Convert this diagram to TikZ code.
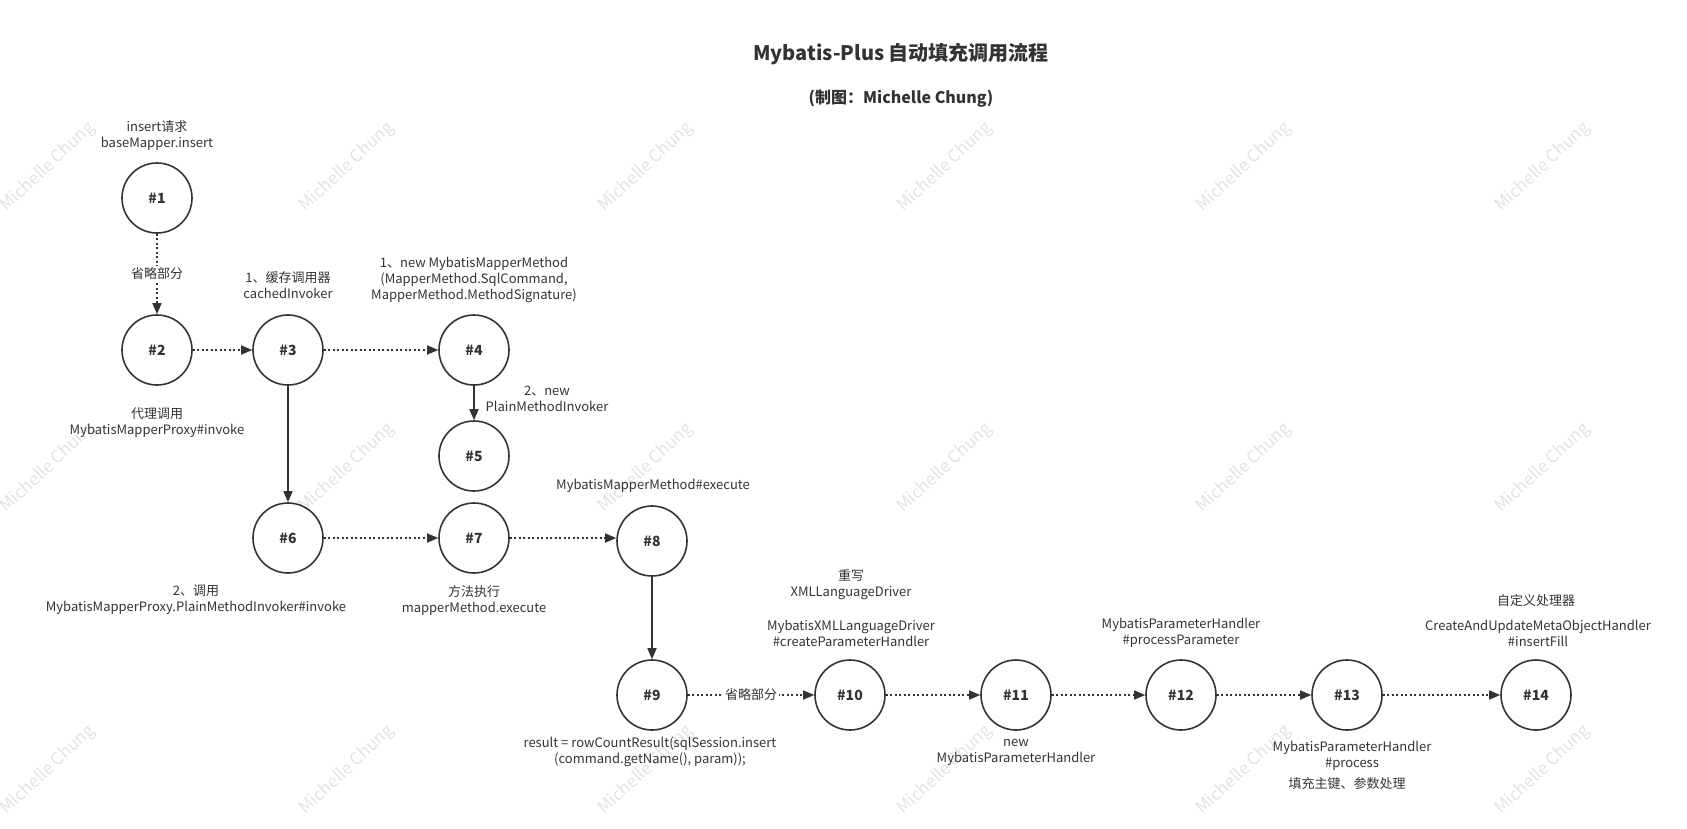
\documentclass[tikz,border=0pt]{standalone}
\usepackage{fontspec}
\setmainfont{Noto Sans CJK SC}
\usetikzlibrary{arrows.meta,positioning}
\definecolor{ink}{HTML}{333333}
\definecolor{wmark}{HTML}{E2E2E2}
\begin{document}
\begin{tikzpicture}[x=1pt,y=-1pt,text=ink,font=\fontsize{13}{16}\selectfont]
\tikzstyle{state}=[circle,draw=ink,line width=1.6pt,minimum size=70pt,inner sep=0pt,font=\fontsize{14}{16}\selectfont\bfseries]
\tikzstyle{call}=[draw=ink,line width=1.6pt,-{Triangle[length=11pt,width=9pt]}]
\tikzstyle{skip}=[call,dash pattern=on 2pt off 2.5pt]
\tikzstyle{note}=[align=center,inner sep=1pt]
\useasboundingbox (0,0) rectangle (1687,828);
\foreach \x in {48,347,...,1543}
  \foreach \y in {167,468,770}
    \node[rotate=43,text=wmark,font=\fontsize{17}{20}\selectfont] at (\x,\y) {Michelle Chung};
\node[font=\fontsize{20}{24}\selectfont\bfseries] (title) at (901,54) {Mybatis-Plus 自动填充调用流程};
\node[font=\fontsize{16}{19}\selectfont\bfseries] (author) at (901,99) {(制图：Michelle Chung)};
\node[state] (n1) at (157,198) {\#1};
\node[state] (n2) at (157,350) {\#2};
\node[state] (n3) at (288,350) {\#3};
\node[state] (n4) at (474,350) {\#4};
\node[state] (n5) at (474,456) {\#5};
\node[state] (n6) at (288,538) {\#6};
\node[state] (n7) at (474,538) {\#7};
\node[state] (n8) at (652,541) {\#8};
\node[state] (n9) at (652,695) {\#9};
\node[state] (n10) at (850,695) {\#10};
\node[state] (n11) at (1016,695) {\#11};
\node[state] (n12) at (1181,695) {\#12};
\node[state] (n13) at (1347,695) {\#13};
\node[state] (n14) at (1536,695) {\#14};
\node[note] (l1) at (157,136) {insert请求\\baseMapper.insert};
\node[note] (l2) at (157,423) {代理调用\\MybatisMapperProxy\#invoke};
\node[note] (l3) at (288,285) {1、缓存调用器\\cachedInvoker};
\node[note] (l4) at (474,280) {1、new MybatisMapperMethod\\(MapperMethod.SqlCommand,\\MapperMethod.MethodSignature)};
\node[note] (l5) at (547,399) {2、new\\PlainMethodInvoker};
\node[note] (l6) at (196,600) {2、调用\\MybatisMapperProxy.PlainMethodInvoker\#invoke};
\node[note] (l7) at (474,600) {方法执行\\mapperMethod.execute};
\node[note] (l8) at (653,486) {MybatisMapperMethod\#execute};
\node[note] (l9) at (650,752) {result = rowCountResult(sqlSession.insert\\(command.getName(), param));};
\node[note] (l10a) at (851,585) {重写\\XMLLanguageDriver};
\node[note] (l10b) at (851,633) {MybatisXMLLanguageDriver\\\#createParameterHandler};
\node[note] (l11) at (1016,752) {new\\MybatisParameterHandler};
\node[note] (l12) at (1181,633) {MybatisParameterHandler\\\#processParameter};
\node[note] (l13a) at (1352,756) {MybatisParameterHandler\\\#process};
\node[note] (l13b) at (1347,784) {填充主键、参数处理};
\node[note] (l14a) at (1536,601) {自定义处理器};
\node[note] (l14b) at (1538,633) {CreateAndUpdateMetaObjectHandler\\\#insertFill};
\draw[skip] (n1) -- node[fill=white,inner sep=2pt] {省略部分} (n2);
\draw[skip] (n2) -- (n3);
\draw[skip] (n3) -- (n4);
\draw[call] (n3) -- (n6);
\draw[call] (n4) -- (n5);
\draw[skip] (n6) -- (n7);
\draw[skip] (n7) -- (n7 -| n8.west);
\draw[call] (n8) -- (n9);
\draw[skip] (n9) -- node[fill=white,inner sep=2pt] {省略部分} (n10);
\draw[skip] (n10) -- (n11);
\draw[skip] (n11) -- (n12);
\draw[skip] (n12) -- (n13);
\draw[skip] (n13) -- (n14);
\end{tikzpicture}
\end{document}
